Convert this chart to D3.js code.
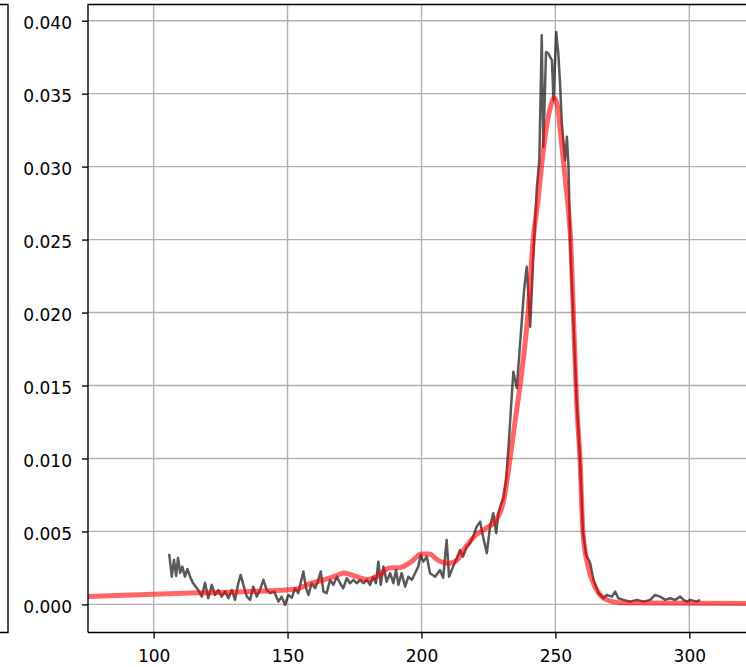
<!DOCTYPE html>
<html lang="en">
<head>
    <meta charset="UTF-8">
    <title>density</title>
    <script src="https://cdn.jsdelivr.net/npm/d3@7/dist/d3.min.js"></script>
    <style type="text/css">
        body{ margin:0; padding:0; background:white; }
        svg{ display:block; }
        text{ font-family:"DejaVu Sans", sans-serif; font-size:17px; fill:#000; }
    </style>
</head>
<body>
<svg width="746" height="667"></svg>
<script type="text/javascript">

    // noisy measured curve (gray)
    var grayX = [105.8,106.8,107.6,108.4,109.1,109.9,110.7,111.7,112.6,113.6,114.7,116.6,118.0,119.2,120.4,121.7,122.9,124.2,125.4,126.7,
                 127.9,129.2,130.4,131.6,132.5,133.5,134.8,136.0,137.2,138.5,139.7,141.0,142.2,143.5,145.0,146.6,147.8,149.1,150.3,151.6,
                 152.8,154.0,155.9,156.9,157.8,159.0,160.3,161.5,162.4,163.4,164.6,165.9,167.1,168.4,169.6,170.8,172.1,173.3,174.6,175.8,
                 177.1,178.3,179.6,180.8,182.0,183.0,183.9,184.8,185.8,187.0,188.3,189.5,190.5,191.4,192.6,193.9,195.1,196.4,197.6,198.8,
                 199.7,200.7,202.0,203.2,205.1,206.9,208.1,209.4,210.3,211.8,213.2,214.4,215.5,216.9,218.1,219.3,220.6,221.9,223.0,224.4,
                 225.6,226.8,227.9,228.7,229.6,230.6,231.6,232.5,233.3,234.3,235.6,237.2,238.3,239.3,240.6,241.8,243.1,244.0,244.9,245.5,
                 246.5,247.4,248.0,248.7,249.3,250.3,251.1,251.8,252.4,253.6,254.3,254.9,255.5,256.6,257.9,259.2,260.3,261.5,263.0,264.2,
                 266.1,267.9,269.2,271.1,272.3,273.5,275.4,277.9,280.4,282.9,285.4,287.2,289.1,291.0,292.8,294.7,296.6,297.8,299.1,300.3,
                 302.8,304.0];
    var grayY = [0.00346,0.00190,0.00305,0.00195,0.00318,0.00216,0.00259,0.00190,0.00243,0.00190,0.00147,0.00099,0.00053,0.00149,0.00042,0.00134,0.00065,0.00099,0.00053,0.00088,
                 0.00042,0.00099,0.00031,0.00145,0.00202,0.00134,0.00053,0.00031,0.00122,0.00053,0.00099,0.00168,0.00099,0.00077,0.00088,0.00019,0.00053,-0.00003,0.00065,0.00045,
                 0.00111,0.00077,0.00225,0.00111,0.00065,0.00145,0.00111,0.00168,0.00225,0.00088,0.00077,0.00168,0.00134,0.00190,0.00145,0.00111,0.00179,0.00145,0.00168,0.00145,
                 0.00168,0.00145,0.00168,0.00134,0.00190,0.00145,0.00293,0.00134,0.00259,0.00156,0.00214,0.00145,0.00236,0.00134,0.00214,0.00122,0.00190,0.00168,0.00214,0.00259,
                 0.00339,0.00293,0.00327,0.00214,0.00190,0.00236,0.00182,0.00442,0.00190,0.00259,0.00316,0.00373,0.00327,0.00396,0.00419,0.00464,0.00533,0.00567,0.00464,0.00351,
                 0.00533,0.00625,0.00488,0.00625,0.00681,0.00727,0.00853,0.01081,0.01310,0.01594,0.01483,0.01880,0.02154,0.02314,0.01903,0.02407,0.02862,0.03044,0.03901,0.03135,
                 0.03786,0.03775,0.03752,0.03729,0.03455,0.03923,0.03775,0.03546,0.03296,0.03044,0.03204,0.02998,0.02496,0.01997,0.01401,0.00990,0.00490,0.00339,0.00282,0.00168,
                 0.00077,0.00042,0.00065,0.00053,0.00088,0.00042,0.00031,0.00019,0.00031,0.00019,0.00031,0.00065,0.00053,0.00031,0.00042,0.00031,0.00053,0.00031,0.00019,0.00031,
                 0.00019,0.00031];

    // smooth fitted curve (red)
    var redX = [70,75.5,100,117,136,150,154,158,163,168,171,175,180,184,188,192,196,200,203,206,
                210,213,216,220,224,227.5,231,233,235,237,239.8,241.7,243.5,244.8,246.5,248.3,249.5,250.7,251.8,253.2,
                254.6,255.7,256.7,257.9,259.2,260.3,262.2,264.8,269.3,274,300,330];
    var redY = [0.00050,0.00054,0.00070,0.00079,0.00088,0.00100,0.00108,0.00140,0.00165,0.00195,0.00216,0.00195,0.00170,0.00200,0.00250,0.00252,0.00290,0.00345,0.00345,0.00305,
                0.00280,0.00300,0.00380,0.00470,0.00520,0.00570,0.00740,0.00990,0.01260,0.01530,0.02000,0.02500,0.02770,0.03000,0.03250,0.03420,0.03470,0.03420,0.03250,0.03000,
                0.02750,0.02500,0.02000,0.01400,0.00990,0.00490,0.00260,0.00120,0.00030,0.00012,0.00008,0.00005];

    var xTicks = [100,150,200,250,300];
    var yTicks = [0.000,0.005,0.010,0.015,0.020,0.025,0.030,0.035,0.040];

    var width = 746;
    var height = 667;
    var padL = 88, padT = 4.5, padB = 632.5, padR = 770;

    var svg = d3.select("svg")
        .attr("width",width)
        .attr("height",height);

    var x = d3.scaleLinear().domain([75.5,330]).range([padL,padL+(330-75.5)*2.6785]);
    var y = d3.scaleLinear().domain([-0.001926,0.04111]).range([padB,padT]);

    svg.append("clipPath").attr("id","plotclip")
        .append("rect")
        .attr("x",padL).attr("y",padT)
        .attr("width",padR-padL).attr("height",padB-padT);

    // grid
    var grid = svg.append("g");
    grid.selectAll("line.vx")
        .data(xTicks)
        .enter()
        .append("line")
        .attr("x1",d => x(d)).attr("x2",d => x(d))
        .attr("y1",padT).attr("y2",padB)
        .style("stroke","#b0b0b0")
        .style("stroke-width",1.36);
    grid.selectAll("line.hy")
        .data(yTicks)
        .enter()
        .append("line")
        .attr("x1",padL).attr("x2",padR)
        .attr("y1",d => y(d)).attr("y2",d => y(d))
        .style("stroke","#b0b0b0")
        .style("stroke-width",1.36);

    var grayData = grayX.map((d,i) => [d,grayY[i]]);
    var redData = redX.map((d,i) => [d,redY[i]]);

    var lines = svg.append("g").attr("clip-path","url(#plotclip)");

    lines.append("path")
        .datum(grayData)
        .attr("d",d3.line().x(d => x(d[0])).y(d => y(d[1])))
        .style("fill","none")
        .style("stroke","#000")
        .style("stroke-opacity",0.65)
        .style("stroke-width",2.5)
        .style("stroke-linejoin","round");

    lines.append("path")
        .datum(redData)
        .attr("d",d3.line().curve(d3.curveMonotoneX).x(d => x(d[0])).y(d => y(d[1])))
        .style("fill","none")
        .style("stroke","#ff0000")
        .style("stroke-opacity",0.6)
        .style("stroke-width",5)
        .style("stroke-linejoin","round");

    // axes
    var xAxis = d3.axisBottom(x).tickValues(xTicks).tickSize(6).tickPadding(8).tickFormat(d3.format("d"));
    var yAxis = d3.axisLeft(y).tickValues(yTicks).tickSize(6).tickPadding(10).tickFormat(d3.format(".3f"));

    var gx = svg.append("g").attr("transform","translate(0,"+padB+")").call(xAxis);
    var gy = svg.append("g").attr("transform","translate("+padL+",0)").call(yAxis);

    [gx,gy].forEach(function(g){
        g.select(".domain").remove();
        g.selectAll(".tick line").style("stroke","#000").style("stroke-width",1.36);
        g.selectAll(".tick text").style("font-family","'DejaVu Sans', sans-serif").style("font-size","17px").attr("fill","#000");
    });
    gx.selectAll(".tick text").attr("dy",null).attr("y",29.5);
    gy.selectAll(".tick text").attr("dy","0.45em");

    // spines
    var spines = svg.append("g")
        .style("stroke","#000")
        .style("stroke-width",1.36)
        .style("fill","none");
    spines.append("path").attr("d","M"+padL+","+padB+"V"+padT+"H"+(padR+10));
    spines.append("path").attr("d","M"+padL+","+padB+"H"+(padR+10));

    // edge of the neighbouring panel
    spines.append("path").attr("d","M0,"+padT+"H8V"+padB+"H0");

</script>
</body>
</html>
